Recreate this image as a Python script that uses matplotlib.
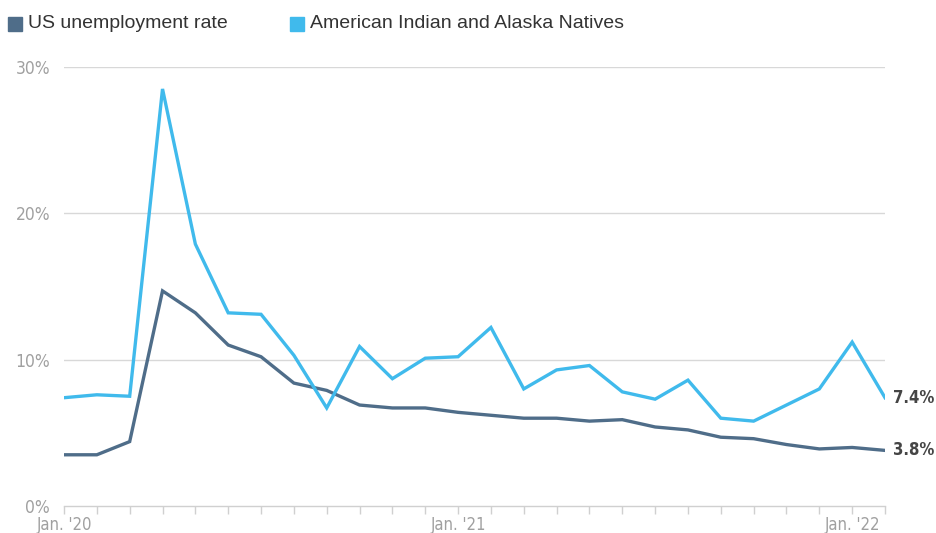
import matplotlib
matplotlib.use("Agg")
import matplotlib.pyplot as plt

months = ["Jan. '20", "Feb", "Mar", "Apr", "May", "Jun", "Jul", "Aug", "Sep", "Oct", "Nov", "Dec",
          "Jan. '21", "Feb", "Mar", "Apr", "May", "Jun", "Jul", "Aug", "Sep", "Oct", "Nov", "Dec",
          "Jan. '22", "Feb"]
us_rate = [3.5, 3.5, 4.4, 14.7, 13.2, 11.0, 10.2, 8.4, 7.9, 6.9, 6.7, 6.7,
           6.4, 6.2, 6.0, 6.0, 5.8, 5.9, 5.4, 5.2, 4.7, 4.6, 4.2, 3.9,
           4.0, 3.8]
aian_rate = [7.4, 7.6, 7.5, 28.5, 17.9, 13.2, 13.1, 10.3, 6.7, 10.9, 8.7, 10.1,
             10.2, 12.2, 8.0, 9.3, 9.6, 7.8, 7.3, 8.6, 6.0, 5.8, 6.9, 8.0,
             11.2, 7.4]
labeled_ticks = {0: "Jan. '20", 12: "Jan. '21", 24: "Jan. '22"}
y_ticks = [0, 10, 20, 30]
series_names = ["US unemployment rate", "American Indian and Alaska Natives"]

DARK = "#4f6d89"
LIGHT = "#40baec"

plt.rcParams['font.family'] = ["Liberation Sans", "DejaVu Sans"]
COND = dict(fontfamily="DejaVu Sans", fontstretch="condensed")

fig = plt.figure(figsize=(9.36, 5.33), dpi=100)
ax = fig.add_axes([64/936, 27/533, (885-64)/936, (506-67)/533])

x = list(range(len(months)))
ax.plot(x, us_rate, color=DARK, lw=2.4, solid_joinstyle='miter', zorder=3)
ax.plot(x, aian_rate, color=LIGHT, lw=2.4, solid_joinstyle='miter', zorder=4)

ax.set_xlim(0, len(months) - 1)
ax.set_ylim(0, 30)
for s in ["top", "right", "left"]:
    ax.spines[s].set_visible(False)
ax.spines["bottom"].set_color("#d0d0d0")
ax.spines["bottom"].set_linewidth(1)
for yv in y_ticks[1:]:
    ax.axhline(yv, color="#d8d8d8", lw=1, zorder=1)

ax.set_yticks(y_ticks)
ax.set_yticklabels([f"{v}%" for v in y_ticks], fontsize=12.5, color="#a0a0a0", **COND)
ax.tick_params(axis='y', length=0, pad=10)
ax.set_xticks(x)
ax.set_xticklabels([labeled_ticks.get(i, "") for i in x], fontsize=12, color="#a0a0a0", **COND)
ax.tick_params(axis='x', length=6, color="#d0d0d0", width=1, pad=1)

ax.text(len(months) - 1 + 0.25, aian_rate[-1], f"{aian_rate[-1]}%", fontsize=12,
        fontweight='bold', color="#454545", va='center', ha='left', clip_on=False, **COND)
ax.text(len(months) - 1 + 0.25, us_rate[-1], f"{us_rate[-1]}%", fontsize=12,
        fontweight='bold', color="#454545", va='center', ha='left', clip_on=False, **COND)

# legend
fig.patches.append(plt.Rectangle((8/936, 1 - 31/533), 14/936, 14/533, transform=fig.transFigure,
                                 color=DARK, figure=fig))
fig.text(28/936, 1 - 23/533, series_names[0], fontsize=14, color="#333333", va='center')
fig.patches.append(plt.Rectangle((290/936, 1 - 31/533), 14/936, 14/533, transform=fig.transFigure,
                                 color=LIGHT, figure=fig))
fig.text(310/936, 1 - 23/533, series_names[1], fontsize=14, color="#333333", va='center')

fig.savefig("out.png", dpi=100)
